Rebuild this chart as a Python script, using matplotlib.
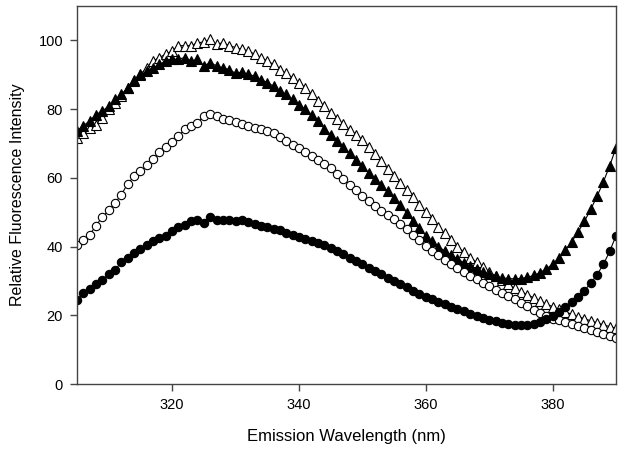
import matplotlib
matplotlib.use("Agg")
import matplotlib.pyplot as plt

plt.rcParams['font.family'] = ['Liberation Sans', 'DejaVu Sans']

wavelength = list(range(305, 391))

filled_circles = [
    24.3, 26.6, 27.6, 29.2, 30.3, 32.0, 33.2, 35.5, 36.6, 38.1,
    39.3, 40.5, 41.5, 42.5, 43.1, 44.4, 45.7, 46.4, 47.3, 47.8,
    46.8, 48.6, 47.6, 47.6, 47.8, 47.3, 47.8, 47.0, 46.5, 46.1,
    45.6, 45.1, 44.7, 44.0, 43.4, 42.8, 42.2, 41.6, 41.0, 40.4,
    39.7, 38.8, 37.8, 36.8, 35.8, 34.8, 33.8, 32.8, 31.9, 30.9,
    29.9, 29.0, 28.1, 27.2, 26.3, 25.4, 24.6, 23.9, 23.2, 22.5,
    21.8, 21.1, 20.4, 19.7, 19.1, 18.6, 18.2, 17.8, 17.5, 17.3,
    17.2, 17.2, 17.5, 18.0, 18.8, 19.8, 21.0, 22.3, 23.8, 25.4,
    27.2, 29.3, 31.8, 34.8, 38.6, 43.2]

open_circles = [
    40.5, 42.0, 43.4, 46.1, 48.6, 50.5, 52.7, 55.1, 58.3, 60.4,
    61.9, 63.6, 65.5, 67.4, 69.0, 70.3, 72.1, 74.1, 75.2, 76.0,
    78.1, 78.7, 78.1, 77.2, 76.8, 76.3, 75.7, 75.0, 74.5, 74.1,
    73.5, 72.9, 71.9, 70.8, 69.6, 68.7, 67.5, 66.4, 65.3, 64.1,
    62.9, 61.2, 59.6, 58.0, 56.4, 54.7, 53.3, 51.8, 50.4, 49.1,
    48.0, 46.6, 45.0, 43.4, 41.8, 40.3, 38.8, 37.4, 36.2, 35.0,
    33.8, 32.6, 31.5, 30.5, 29.4, 28.4, 27.4, 26.5, 25.6, 24.7,
    23.6, 22.6, 21.6, 20.6, 19.7, 19.0, 18.5, 18.0, 17.4, 16.9,
    16.3, 15.8, 15.2, 14.6, 14.0, 13.4]

open_triangles = [
    71.6, 73.1, 74.5, 75.5, 77.5, 79.9, 81.8, 83.8, 86.2, 88.2,
    90.1, 92.0, 94.0, 95.0, 96.0, 96.9, 98.4, 98.5, 98.4, 99.3,
    99.5, 100.3, 98.8, 99.3, 98.5, 97.9, 97.4, 96.9, 96.0, 95.0,
    94.0, 93.0, 91.5, 90.4, 89.1, 87.7, 86.2, 84.3, 82.3, 80.9,
    78.9, 77.2, 75.6, 74.0, 72.6, 71.0, 69.0, 66.9, 64.8, 62.6,
    60.5, 58.5, 56.4, 54.3, 52.2, 50.0, 47.9, 45.8, 43.8, 41.8,
    40.0, 38.4, 36.8, 35.4, 34.0, 32.7, 31.4, 30.2, 29.0, 27.9,
    26.9, 26.0, 25.1, 24.2, 23.3, 22.5, 21.7, 21.0, 20.3, 19.6,
    19.0, 18.4, 17.8, 17.2, 16.7, 16.2]

filled_triangles = [
    73.6, 75.2, 76.5, 78.4, 79.4, 80.9, 82.8, 84.3, 86.2, 88.6,
    89.8, 91.0, 92.0, 93.0, 94.0, 94.5, 94.5, 95.0, 94.0, 94.5,
    92.6, 93.5, 92.6, 92.0, 91.5, 90.4, 90.8, 90.1, 89.6, 88.6,
    87.7, 86.7, 85.2, 84.3, 82.8, 81.3, 79.9, 78.4, 76.6, 74.3,
    72.6, 70.8, 69.0, 67.2, 65.3, 63.4, 61.5, 59.7, 57.9, 56.1,
    54.2, 52.0, 49.8, 47.5, 45.3, 43.2, 41.5, 40.0, 38.7, 37.5,
    36.4, 35.3, 34.3, 33.4, 32.6, 31.9, 31.3, 30.9, 30.7, 30.6,
    30.7, 31.0, 31.6, 32.4, 33.5, 34.9, 36.7, 38.9, 41.4, 44.2,
    47.3, 50.8, 54.6, 58.8, 63.5, 68.8]

fig = plt.figure(figsize=(6.29, 4.53), dpi=100)
ax = fig.add_axes([0.1224, 0.1523, 0.857, 0.8345])

ax.plot(wavelength, open_triangles, '-^', color='black', lw=0.8, ms=6.5,
        mfc='white', mec='black', mew=0.8)
ax.plot(wavelength, filled_triangles, '-^', color='black', lw=0.8, ms=6.5,
        mfc='black', mec='black', mew=0.8)
ax.plot(wavelength, open_circles, '-o', color='black', lw=0.8, ms=6,
        mfc='white', mec='black', mew=0.8)
ax.plot(wavelength, filled_circles, '-o', color='black', lw=0.8, ms=6,
        mfc='black', mec='black', mew=0.8)

ax.set_xlim(305, 390)
ax.set_ylim(0, 110)
ax.set_xticks([320, 340, 360, 380])
ax.set_yticks([0, 20, 40, 60, 80, 100])

for s in ax.spines.values():
    s.set_color('#444444')
    s.set_linewidth(1.0)
ax.tick_params(direction='out', length=5, width=1.0, color='#444444',
               labelsize=10.5, pad=5)

ax.set_xlabel('Emission Wavelength (nm)', fontsize=12, labelpad=12)
ax.set_ylabel('Relative Fluorescence Intensity', fontsize=11.5, labelpad=10)

fig.savefig('out.png', dpi=100)
